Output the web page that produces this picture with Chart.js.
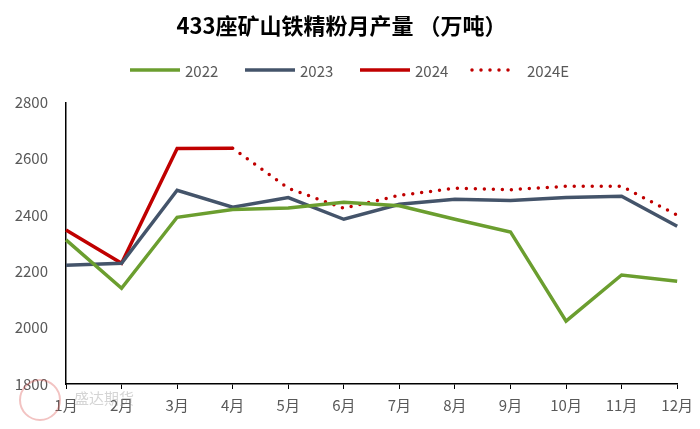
<!DOCTYPE html>
<html lang="zh">
<head>
  <meta charset="UTF-8">
  <title>433座矿山铁精粉月产量</title>
  <style>
    body { margin: 0; padding: 0; background: #fff; }
    canvas { display: block; }
  </style>
  <script src="https://cdn.jsdelivr.net/npm/chart.js"></script>
</head>
<body>
  <canvas id="myChart" width="700" height="429"></canvas>
  <script>
    // 月份
    const months = ['1月', '2月', '3月', '4月', '5月', '6月', '7月', '8月', '9月', '10月', '11月', '12月'];
    // 各年产量 (万吨)
    const y2022 = [2312, 2140, 2392, 2420, 2425, 2445, 2433, 2385, 2340, 2023, 2187, 2165];
    const y2023 = [2222, 2229, 2488, 2428, 2462, 2385, 2438, 2456, 2452, 2462, 2467, 2360];
    const y2024 = [2347, 2229, 2636, 2637, null, null, null, null, null, null, null, null];
    const y2024E = [null, null, null, 2637, 2495, 2424, 2470, 2495, 2490, 2502, 2502, 2400];
    const yTicks = [1800, 2000, 2200, 2400, 2600, 2800];

    const FONT = "'Noto Sans CJK SC', 'Noto Sans', sans-serif";

    // 图例 (自己画, 为了虚线点样式)
    const customLegend = {
      id: 'customLegend',
      afterDraw(chart) {
        const ctx = chart.ctx;
        const xs = [130, 245, 360, 472];
        const y = 70;
        ctx.save();
        ctx.font = '15px ' + FONT;
        ctx.textBaseline = 'middle';
        chart.data.datasets.forEach((ds, i) => {
          ctx.strokeStyle = ds.borderColor;
          ctx.lineWidth = ds.borderWidth;
          ctx.lineCap = ds.borderCapStyle || 'butt';
          ctx.setLineDash(ds.borderDash || []);
          ctx.beginPath();
          ctx.moveTo(xs[i], y);
          ctx.lineTo(xs[i] + (ds.borderDash ? 45 : 50), y);
          ctx.stroke();
          ctx.setLineDash([]);
          ctx.fillStyle = '#595959';
          ctx.fillText(ds.label, xs[i] + 55, y + 1);
        });
        ctx.restore();
      }
    };

    // 左下角水印
    const watermark = {
      id: 'watermark',
      afterDraw(chart) {
        const ctx = chart.ctx;
        ctx.save();
        ctx.globalAlpha = 0.35;
        ctx.strokeStyle = '#d9534f';
        ctx.lineWidth = 2;
        ctx.beginPath();
        ctx.arc(40, 400, 20, 0, Math.PI * 2);
        ctx.stroke();
        ctx.fillStyle = '#888';
        ctx.font = '15px ' + FONT;
        ctx.fillText('盛达期货', 74, 404);
        ctx.restore();
      }
    };

    new Chart(document.getElementById('myChart').getContext('2d'), {
      type: 'line',
      data: {
        labels: months,
        datasets: [
          { label: '2022', data: y2022, borderColor: '#6b9e2f', borderWidth: 3.5, pointRadius: 0, tension: 0 },
          { label: '2023', data: y2023, borderColor: '#44546a', borderWidth: 3.5, pointRadius: 0, tension: 0 },
          { label: '2024', data: y2024, borderColor: '#c00000', borderWidth: 3.5, pointRadius: 0, tension: 0 },
          { label: '2024E', data: y2024E, borderColor: '#c00000', borderWidth: 3.5, pointRadius: 0, tension: 0,
            borderDash: [0, 9], borderCapStyle: 'round' }
        ]
      },
      options: {
        responsive: false,
        animation: false,
        layout: { padding: { left: 0, right: 17, top: 7, bottom: 8 } },
        plugins: {
          title: {
            display: true,
            text: '433座矿山铁精粉月产量 （万吨）',
            color: '#000',
            font: { family: FONT, size: 22, weight: 'bold' },
            padding: { top: 5, bottom: 64 }
          },
          legend: { display: false },
          tooltip: { enabled: false }
        },
        scales: {
          x: {
            offset: false,
            grid: { drawOnChartArea: false, color: '#000', tickLength: 5 },
            border: { color: '#000', width: 1.5 },
            ticks: { color: '#595959', font: { family: FONT, size: 15 }, maxRotation: 0, padding: 7 }
          },
          y: {
            min: 1800,
            max: 2800,
            afterBuildTicks: axis => { axis.ticks = yTicks.map(v => ({ value: v })); },
            afterFit: axis => { axis.width = 66; },
            grid: { display: false },
            border: { color: '#000', width: 1.5 },
            ticks: { color: '#595959', font: { family: FONT, size: 15 }, padding: 10,
              callback: v => String(v) }
          }
        }
      },
      plugins: [customLegend, watermark]
    });
  </script>
</body>
</html>
